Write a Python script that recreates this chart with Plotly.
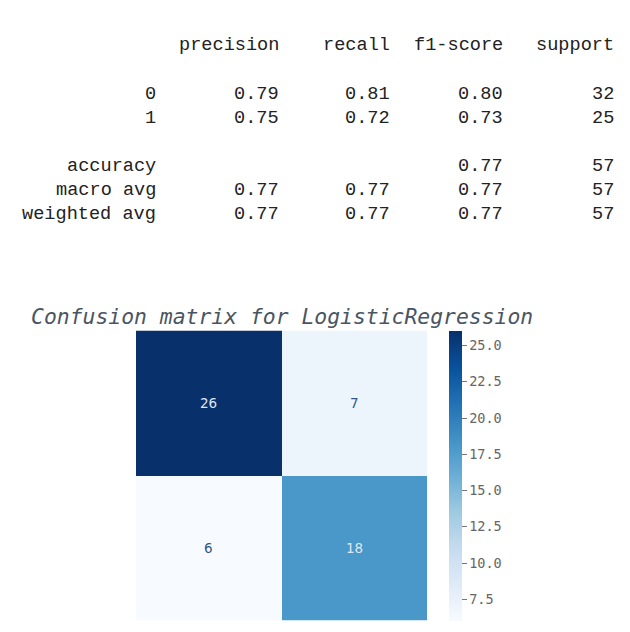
import plotly.graph_objects as go

W, H = 630, 632

# ---- classification report data ----
report_headers = ["precision", "recall", "f1-score", "support"]
report_rows = ["0", "1", "", "accuracy", "macro avg", "weighted avg"]
precision = ["0.79", "0.75", "", "", "0.77", "0.77"]
recall = ["0.81", "0.72", "", "", "0.77", "0.77"]
f1_score = ["0.80", "0.73", "", "0.77", "0.77", "0.77"]
support = ["32", "25", "", "57", "57", "57"]

# ---- confusion matrix data ----
cm_labels = ["0", "1"]
cm_values = [[26, 7], [6, 18]]
cb_ticks = [7.5, 10.0, 12.5, 15.0, 17.5, 20.0, 22.5, 25.0]
title_text = "Confusion matrix for LogisticRegression"

blues = ['rgb(247,251,255)', 'rgb(222,235,247)', 'rgb(198,219,239)',
         'rgb(158,202,225)', 'rgb(107,174,214)', 'rgb(66,146,198)',
         'rgb(33,113,181)', 'rgb(8,81,156)', 'rgb(8,48,107)']
colorscale = [[i / (len(blues) - 1), c] for i, c in enumerate(blues)]


def px(x):
    return x / W


def py(y):
    return 1 - y / H


fig = go.Figure()
fig.add_trace(go.Heatmap(
    z=cm_values, x=cm_labels, y=cm_labels,
    colorscale=colorscale, showscale=True,
    hoverinfo="skip",
    colorbar=dict(
        x=px(449), xanchor="left", xref="paper", xpad=0, ypad=0,
        y=py(331), yanchor="top", len=(621 - 331) / H, lenmode="fraction",
        thickness=13, outlinewidth=0,
        tickvals=cb_ticks, ticktext=[f"{t:.1f}" for t in cb_ticks],
        ticks="outside", ticklen=5, tickcolor="#777", tickwidth=1,
        tickfont=dict(family="DejaVu Sans Mono", size=13.5, color="#666"),
    ),
))

zmin = min(min(r) for r in cm_values)
zmax = max(max(r) for r in cm_values)
annotations = []
for i, row in enumerate(cm_values):
    for j, v in enumerate(row):
        frac = (v - zmin) / (zmax - zmin)
        col = "#dfe6f0" if frac > 0.5 else "#34548a"
        annotations.append(dict(x=cm_labels[j], y=cm_labels[i], xref="x", yref="y",
                                text=str(v), showarrow=False,
                                font=dict(family="DejaVu Sans", size=13.5, color=col)))

# report text
mono = dict(family="Liberation Mono", size=18.6, color="#222")
col_right = [281, 392, 505, 616]
label_right = 158
header_y = 46
row_ys = [94.5, 118.5, 142.5, 166.5, 190.5, 214.5]
for k, h in enumerate(report_headers):
    annotations.append(dict(x=px(col_right[k]), y=py(header_y), xref="paper", yref="paper",
                            xanchor="right", yanchor="middle", text=h, showarrow=False, font=mono))
cols = [precision, recall, f1_score, support]
for r, lab in enumerate(report_rows):
    if lab:
        annotations.append(dict(x=px(label_right), y=py(row_ys[r]), xref="paper", yref="paper",
                                xanchor="right", yanchor="middle", text=lab, showarrow=False, font=mono))
    for k, c in enumerate(cols):
        if c[r]:
            annotations.append(dict(x=px(col_right[k]), y=py(row_ys[r]), xref="paper", yref="paper",
                                    xanchor="right", yanchor="middle", text=c[r], showarrow=False, font=mono))

# title
annotations.append(dict(x=px(281.5), y=py(316), xref="paper", yref="paper",
                        xanchor="center", yanchor="middle", text="<i>" + title_text + "</i>",
                        showarrow=False,
                        font=dict(family="DejaVu Sans Mono", size=21.4, color="#4a5562")))

fig.update_layout(
    width=W, height=H,
    margin=dict(l=0, r=0, t=0, b=0),
    paper_bgcolor="white", plot_bgcolor="white",
    xaxis=dict(domain=[px(136), px(427)], showticklabels=False, showgrid=False,
               zeroline=False, ticks="", showline=False),
    yaxis=dict(domain=[py(620.5), py(330.5)], autorange="reversed", showticklabels=False,
               showgrid=False, zeroline=False, ticks="", showline=False),
    annotations=annotations,
    showlegend=False,
)

fig.write_html("out.html")
